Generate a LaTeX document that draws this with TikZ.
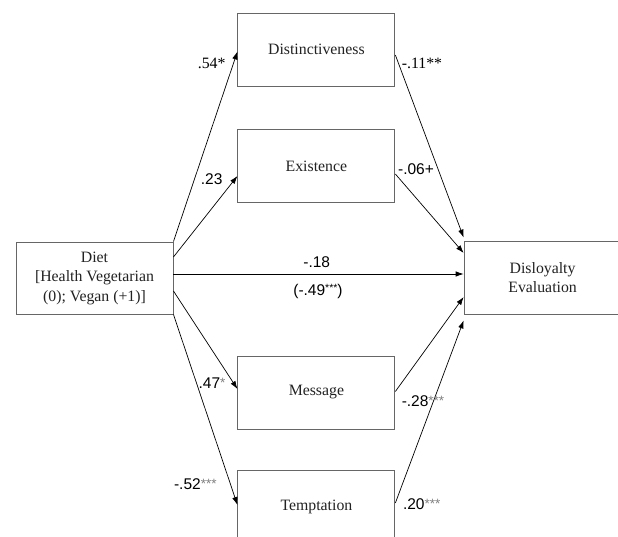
\documentclass[tikz,border=0pt]{standalone}
\usepackage{fontspec}
\setmainfont{Liberation Serif}
\setsansfont{Liberation Sans}
\usetikzlibrary{arrows.meta}
\definecolor{boxgray}{HTML}{666666}
\definecolor{txt}{HTML}{222222}
\definecolor{stargray}{HTML}{808080}
\newcommand{\gstars}[1]{{\color{stargray}\raisebox{1pt}{\fontsize{13.5}{13.5}\selectfont #1}}}
\newcommand{\sstars}[1]{\raisebox{3.5pt}{\fontsize{10.5}{10.5}\selectfont #1}}
\begin{document}
\begin{tikzpicture}[x=1pt,y=-1pt,
  varbox/.style={draw=boxgray, line width=0.9pt, minimum width=157pt, minimum height=73pt,
    inner sep=0pt, align=center, text=txt, font=\fontsize{15.8}{19.5}\selectfont},
  path/.style={draw=black, line width=0.7pt, -{Latex[length=8pt,width=5.5pt]}},
  coef/.style={inner sep=0pt, text=black, font=\sffamily\fontsize{15.5}{18}\selectfont},
  coefs/.style={inner sep=0pt, text=black, font=\fontsize{15.8}{18}\selectfont}]
\clip (0,0) rectangle (618,537);
\fill[white] (0,0) rectangle (618,537);
% boxes
\node[varbox, minimum height=72pt] (diet) at (94.5,278) {Diet\\{}[Health Vegetarian\\ (0); Vegan (+1)]};
\node[varbox] (dist) at (316.4,49.5) {Distinctiveness};
\node[varbox] (exist) at (316.4,166) {Existence};
\node[varbox] (msg) at (316.4,392.5) {Message};
\node[varbox] (tempt) at (316.4,506.5) {Temptation};
\node[varbox, align=center] (disl) at (542.6,277.5) {Disloyalty\\Evaluation};
% paths from diet
\draw[path] (diet.north east) -- ([yshift=-2pt]dist.west);
\draw[path] ([yshift=21pt]diet.east) -- ([yshift=-10pt]exist.west);
\draw[path] ([yshift=4pt]diet.east) -- ([yshift=3.5pt]disl.west);
\draw[path] ([yshift=-13pt]diet.east) -- ([yshift=3.5pt]msg.west);
\draw[path] (diet.south east) -- ([yshift=1.5pt]tempt.west);
% paths to disloyalty
\draw[path] ([yshift=-5.5pt]dist.east) -- ([yshift=3pt]disl.north west);
\draw[path] ([yshift=-8pt]exist.east) -- ([yshift=24.5pt]disl.west);
\draw[path] ([yshift=1pt]msg.east) -- ([yshift=-19.5pt]disl.west);
\draw[path] ([yshift=3.5pt]tempt.east) -- ([yshift=-6pt]disl.south west);
% coefficients
\node[coefs] (c54) at (211.7,63.3) {.54*};
\node[coef] (c23) at (211.7,179.3) {.23};
\node[coefs] (c11) at (422,63) {-.11**};
\node[coef] (c06) at (416,169.3) {-.06+};
\node[coef] (c18) at (316.7,262) {-.18};
\node[coef] (c49) at (318,291) {(-.49\sstars{***})};
\node[coef] (c47) at (212,383.3) {.47\gstars{*}};
\node[coef] (c52) at (195.3,484) {-.52\gstars{***}};
\node[coef] (c28) at (423,400.7) {-.28\gstars{***}};
\node[coef] (c20) at (421.7,504) {.20\gstars{***}};
\end{tikzpicture}
\end{document}
